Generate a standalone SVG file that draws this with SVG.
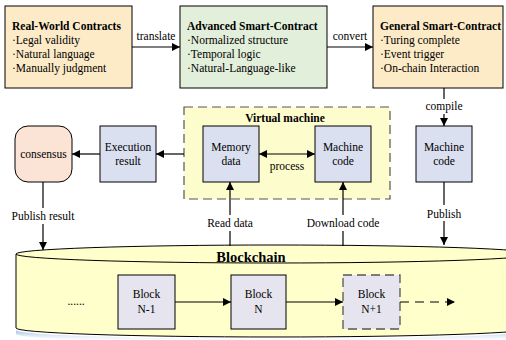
<svg xmlns="http://www.w3.org/2000/svg" width="506" height="340" viewBox="0 0 506 340" font-family="'Liberation Serif', 'Times New Roman', serif">
<style>
text{font-family:'Liberation Serif','Times New Roman',serif;font-size:11.5px;fill:#000}
.b{font-weight:bold}
.c{text-anchor:middle}
.box{stroke:#000;stroke-width:1}
.ln{stroke:#000;stroke-width:1.2;fill:none}
</style>
<defs>
<marker id="ah" viewBox="0 0 10 10" refX="10" refY="5" markerWidth="8" markerHeight="8" markerUnits="userSpaceOnUse" orient="auto-start-reverse">
<path d="M0,0 L10,5 L0,10 z" fill="#000"/>
</marker>
<linearGradient id="sh" x1="0" y1="0" x2="0" y2="1">
<stop offset="0" stop-color="#6f9fd0" stop-opacity="0.7"/>
<stop offset="1" stop-color="#ffffff" stop-opacity="0"/>
</linearGradient>
</defs>
<rect width="506" height="340" fill="#fff"/>

<g id="blockchain">
<path d="M16,330 A259,9 0 0 0 534,330 L534,334 A259,9 0 0 1 16,334 z" fill="url(#sh)"/>
<path d="M16,254 L16,328 A259,9 0 0 0 534,328 L534,254 A259,9 0 0 0 16,254 z" fill="#ffffcc" stroke="#000" stroke-width="1"/>
<path d="M16,254 A259,9 0 0 0 534,254" fill="none" stroke="#000" stroke-width="1"/>
<text x="251" y="262" class="b c" font-size="14.5" style="font-size:14.5px">Blockchain</text>
<text x="76" y="305" class="c">......</text>
</g>

<g id="real-world">
<rect x="5" y="6" width="127" height="82" fill="#fdebc8" class="box"/>
<text x="12" y="30" class="b">Real-World Contracts</text>
<text x="12" y="44">·Legal validity</text>
<text x="12" y="58">·Natural language</text>
<text x="12" y="72">·Manually judgment</text>
</g>

<g id="advanced">
<rect x="180" y="6" width="147" height="82" fill="#e2efda" class="box"/>
<text x="187" y="30" class="b">Advanced Smart-Contract</text>
<text x="187" y="44">·Normalized structure</text>
<text x="187" y="58">·Temporal logic</text>
<text x="187" y="72">·Natural-Language-like</text>
</g>

<g id="general">
<rect x="373" y="6" width="130" height="82" fill="#fdebc8" class="box"/>
<text x="380" y="30" class="b">General Smart-Contract</text>
<text x="380" y="44">·Turing complete</text>
<text x="380" y="58">·Event trigger</text>
<text x="380" y="72">·On-chain Interaction</text>
</g>

<g id="vm">
<rect x="184" y="107" width="206" height="92" fill="#fdfccc" stroke="#555" stroke-width="1.2" stroke-dasharray="9,5"/>
<text x="285" y="122" class="b c">Virtual machine</text>
</g>

<g id="memory">
<rect x="203" y="126" width="56" height="56" fill="#dae0f0" class="box"/>
<text x="231" y="151" class="c">Memory</text>
<text x="231" y="165" class="c">data</text>
</g>

<g id="vm-code">
<rect x="315" y="126" width="56" height="56" fill="#dae0f0" class="box"/>
<text x="343" y="151" class="c">Machine</text>
<text x="343" y="165" class="c">code</text>
</g>

<g id="machine-code">
<rect x="416" y="126" width="56" height="56" fill="#dae0f0" class="box"/>
<text x="444" y="151" class="c">Machine</text>
<text x="444" y="165" class="c">code</text>
</g>

<g id="exec">
<rect x="100" y="126" width="56" height="56" fill="#dae0f0" class="box"/>
<text x="128" y="151" class="c">Execution</text>
<text x="128" y="165" class="c">result</text>
</g>

<g id="consensus">
<rect x="15" y="126" width="57" height="56" rx="13" fill="#fbe3d5" class="box"/>
<text x="43.5" y="158" class="c">consensus</text>
</g>

<g id="block-n-1">
<rect x="118" y="275" width="57" height="54" fill="#e6e4ee" class="box"/>
<text x="146.5" y="298" class="c">Block</text>
<text x="146.5" y="313" class="c">N-1</text>
</g>
<g id="block-n">
<rect x="231" y="275" width="55" height="54" fill="#e6e4ee" class="box"/>
<text x="258.5" y="298" class="c">Block</text>
<text x="258.5" y="313" class="c">N</text>
</g>
<g id="block-n1">
<rect x="343" y="275" width="57" height="54" fill="#e6e4ee" stroke="#555" stroke-width="1.3" stroke-dasharray="9,5"/>
<text x="371.5" y="298" class="c">Block</text>
<text x="371.5" y="313" class="c">N+1</text>
</g>

<g id="connectors">
<line x1="132" y1="47" x2="180" y2="47" class="ln" marker-end="url(#ah)"/>
<text x="156" y="40" class="c">translate</text>
<line x1="327" y1="47" x2="373" y2="47" class="ln" marker-end="url(#ah)"/>
<text x="350" y="40" class="c">convert</text>
<line x1="444" y1="88" x2="444" y2="99" class="ln"/>
<line x1="444" y1="114" x2="444" y2="126" class="ln" marker-end="url(#ah)"/>
<text x="444" y="110" class="c">compile</text>
<line x1="444" y1="182" x2="444" y2="205" class="ln"/>
<line x1="444" y1="221" x2="444" y2="245" class="ln" marker-end="url(#ah)"/>
<text x="444" y="218" class="c">Publish</text>
<line x1="184" y1="154" x2="156" y2="154" class="ln" marker-end="url(#ah)"/>
<line x1="100" y1="154" x2="72" y2="154" class="ln" marker-end="url(#ah)"/>
<line x1="43" y1="182" x2="43" y2="208" class="ln"/>
<line x1="43" y1="224" x2="43" y2="250" class="ln" marker-end="url(#ah)"/>
<text x="43" y="220" class="c">Publish result</text>
<line x1="230" y1="246" x2="230" y2="231" class="ln"/>
<line x1="230" y1="215" x2="230" y2="182" class="ln" marker-end="url(#ah)"/>
<text x="230" y="227" class="c">Read data</text>
<line x1="343" y1="246" x2="343" y2="231" class="ln"/>
<line x1="343" y1="215" x2="343" y2="182" class="ln" marker-end="url(#ah)"/>
<text x="343" y="227" class="c">Download code</text>
<line x1="259" y1="154" x2="315" y2="154" class="ln" marker-start="url(#ah)" marker-end="url(#ah)"/>
<text x="287" y="170" class="c">process</text>
<line x1="175" y1="302" x2="231" y2="302" class="ln" marker-end="url(#ah)"/>
<line x1="286" y1="302" x2="343" y2="302" class="ln" marker-end="url(#ah)"/>
<line x1="400" y1="302" x2="455" y2="302" class="ln" stroke-dasharray="9,6" marker-end="url(#ah)"/>
</g>
</svg>
